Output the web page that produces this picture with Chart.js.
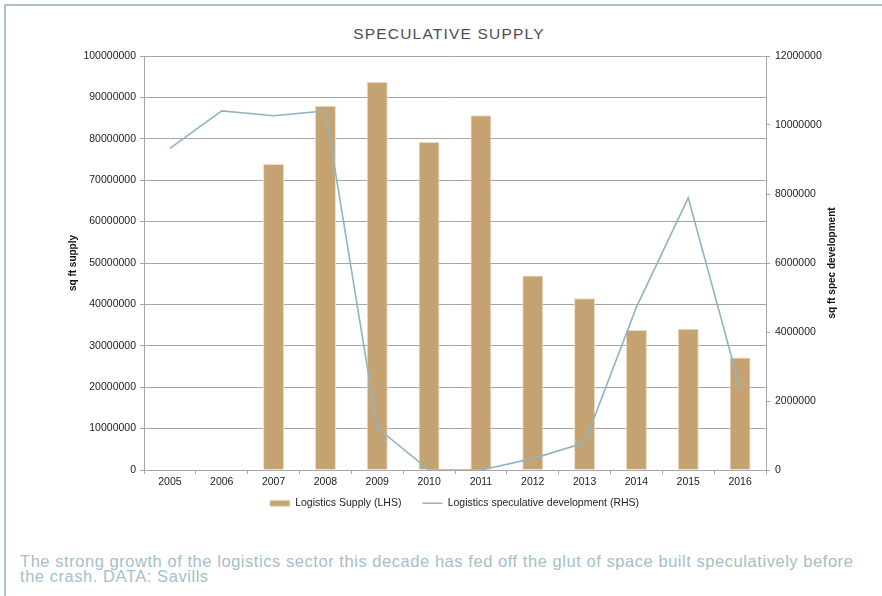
<!DOCTYPE html>
<html lang="en">
  <head>
    <meta charset="UTF-8" />
    <title>Speculative Supply</title>
    <script src="https://cdn.jsdelivr.net/npm/chart.js@4.4.0/dist/chart.umd.min.js"></script>
    <style>
      body {
        margin: 0;
        width: 882px;
        height: 596px;
        overflow: hidden;
        background: #ffffff;
        font-family: 'Liberation Sans', Arial, sans-serif;
        position: relative;
      }

      /* light frame round the panel (open to the right and bottom) */
      .frame {
        position: absolute;
        left: 4px;
        top: 4px;
        width: 1000px;
        height: 1000px;
        border-left: 2px solid #a9c4cc;
        border-top: 2px solid #a9c4cc;
      }

      .chart-title {
        position: absolute;
        left: 0;
        width: 898px;
        top: 24px;
        text-align: center;
        font-size: 15.5px;
        line-height: 20px;
        letter-spacing: 1.2px;
        color: #4d4d4d;
      }

      .chart-wrapper {
        position: absolute;
        left: 0;
        top: 0;
        width: 882px;
        height: 532px;
      }

      .caption {
        position: absolute;
        left: 20px;
        top: 554px;
        font-size: 16.5px;
        line-height: 15px;
        letter-spacing: 0.55px;
        color: #a3bfc8;
        white-space: nowrap;
      }
    </style>
  </head>
  <body>
    <div class="frame"></div>
    <div class="chart-title">SPECULATIVE SUPPLY</div>
    <div class="chart-wrapper">
      <canvas id="specChart"></canvas>
    </div>
    <div class="caption">
      The strong growth of the logistics sector this decade has fed off the glut of space built speculatively before<br />the crash. DATA: Savills
    </div>

    <script>
      const years = ["2005", "2006", "2007", "2008", "2009", "2010", "2011", "2012", "2013", "2014", "2015", "2016"];
      // sq ft, left axis
      const logisticsSupply = [null, null, 73900000, 88000000, 93800000, 79200000, 85700000, 47000000, 41500000, 33800000, 34100000, 27200000];
      // sq ft, right axis
      const specDevelopment = [9320000, 10410000, 10270000, 10410000, 1220000, 0, 0, 330000, 790000, 4720000, 7890000, 2370000];

      const leftAxis  = { min: 0, max: 100000000, step: 10000000, title: "sq ft supply" };
      const rightAxis = { min: 0, max: 12000000, step: 2000000, title: "sq ft spec development" };

      const FONT = "'Liberation Sans', Arial, sans-serif";
      const GRID = "#a6a6a6";

      // right-hand axis title reads bottom-to-top like the left one
      const rightTitle = {
        id: "rightTitle",
        afterDraw(chart) {
          const ctx = chart.ctx;
          const area = chart.chartArea;
          ctx.save();
          ctx.translate(832, (area.top + area.bottom) / 2);
          ctx.rotate(-Math.PI / 2);
          ctx.font = "bold 10px " + FONT;
          ctx.fillStyle = "#111";
          ctx.textAlign = "center";
          ctx.textBaseline = "middle";
          ctx.fillText(rightAxis.title, 0, 0);
          ctx.restore();
        }
      };

      // the legend keeps wide gaps between its items but sits close under the year labels
      const legendLift = {
        id: "legendLift",
        afterLayout(chart) {
          chart.legend.top -= 13;
          chart.legend.bottom -= 13;
        }
      };

      Chart.defaults.font.family = FONT;
      Chart.defaults.font.size = 10.5;
      Chart.defaults.color = "#222";

      new Chart(document.getElementById("specChart"), {
        type: "bar",
        data: {
          labels: years,
          datasets: [
            {
              type: "line",
              label: "Logistics speculative development (RHS)",
              data: specDevelopment,
              borderColor: "#8fb5c1",
              backgroundColor: "#8fb5c1",
              borderWidth: 1.6,
              pointRadius: 0,
              pointStyle: "line",
              tension: 0,
              yAxisID: "yRight",
              order: 0
            },
            {
              label: "Logistics Supply (LHS)",
              data: logisticsSupply,
              backgroundColor: "#c4a271",
              borderColor: "#eadbc0",
              borderWidth: 1,
              borderSkipped: "bottom",
              pointStyle: "rect",
              barPercentage: 0.81,
              categoryPercentage: 0.5,
              yAxisID: "yLeft",
              order: 1
            }
          ]
        },
        options: {
          responsive: true,
          maintainAspectRatio: false,
          animation: false,
          layout: {
            padding: { top: 56, left: 63, right: 36, bottom: 0.5 }
          },
          scales: {
            x: {
              grid: {
                display: true,
                drawOnChartArea: false,
                drawTicks: true,
                tickLength: 4,
                color: GRID
              },
              border: { display: true, color: GRID },
              ticks: { padding: 2, maxRotation: 0 },
              afterFit(scale) { scale.height = 20; }
            },
            yLeft: {
              position: "left",
              min: leftAxis.min,
              max: leftAxis.max,
              ticks: {
                stepSize: leftAxis.step,
                padding: 4,
                callback: (v) => String(v)
              },
              grid: { color: GRID, tickLength: 4 },
              border: { display: true, color: GRID },
              title: {
                display: true,
                text: leftAxis.title,
                font: { size: 10, weight: "bold" },
                color: "#111",
                padding: { top: 4, bottom: 4 }
              },
              afterFit(scale) { scale.width = 81; }
            },
            yRight: {
              position: "right",
              min: rightAxis.min,
              max: rightAxis.max,
              ticks: {
                stepSize: rightAxis.step,
                padding: 5,
                callback: (v) => String(v)
              },
              grid: { drawOnChartArea: false, color: GRID, tickLength: 4 },
              border: { display: true, color: GRID },
              afterFit(scale) { scale.width = 80; }
            }
          },
          plugins: {
            legend: {
              position: "bottom",
              reverse: true,
              labels: {
                usePointStyle: true,
                pointStyleWidth: 20,
                boxHeight: 6,
                padding: 21,
                color: "#222"
              }
            },
            tooltip: { enabled: false }
          }
        },
        plugins: [rightTitle, legendLift]
      });
    </script>
  </body>
</html>
